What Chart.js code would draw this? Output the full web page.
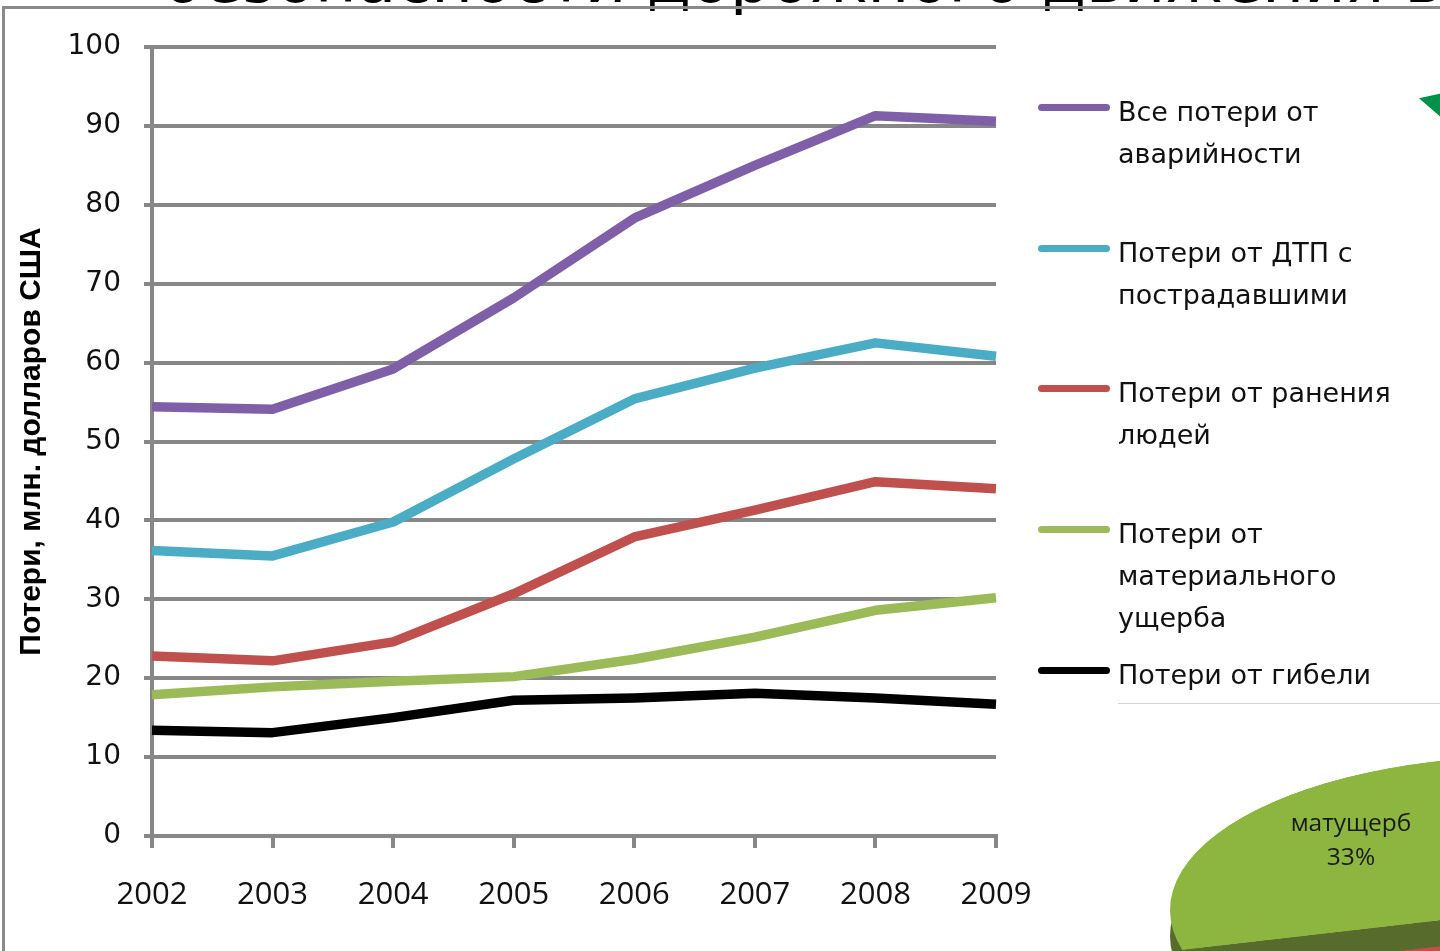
<!DOCTYPE html>
<html>
<head>
<meta charset="utf-8">
<script src="https://cdn.jsdelivr.net/npm/chart.js@4.4.1/dist/chart.umd.min.js"></script>
<style>
  html, body { margin: 0; padding: 0; background: #fff; }
  body { width: 1440px; height: 951px; position: relative; overflow: hidden; font-family: 'DejaVu Sans', sans-serif; }
  #title { position: absolute; left: 163px; top: -52px; font-size: 64px; line-height: 64px; color: #000; white-space: nowrap; }
  #frame { position: absolute; left: 2px; top: 6px; width: 1500px; height: 1000px; border-left: 3px solid #8a8a8a; border-top: 3px solid #8a8a8a; background: transparent; }
  #lineWrap { position: absolute; left: 0; top: 0; width: 1440px; height: 951px; }
  #legend { position: absolute; left: 1038px; top: 91px; width: 400px; }
  .item { position: relative; height: 140.7px; }
  .swatch { position: absolute; left: 0; top: 13px; width: 72px; height: 7px; border-radius: 4px; }
  .label { position: absolute; left: 80px; top: 0; width: 300px; font-size: 27px; line-height: 42px; color: #111; }
  #pieBox { position: absolute; left: 1118px; top: 703px; width: 330px; height: 260px; background: #fff; border-top: 1px solid #d4d4d4; overflow: hidden; }
  .pieWrap { position: absolute; left: 52px; width: 720px; height: 720px; transform: scaleY(0.428); transform-origin: 50% 50%; }
  #pieBase { top: -154px; }
  #pieSide { top: -128px; }
  #pieTop { top: -154px; }
  #pieLabel { position: absolute; left: 145px; top: 101px; width: 176px; text-align: center; font-family: 'Open Sans', sans-serif; font-size: 24.5px; line-height: 34px; color: #1a1a1a; }
  #tri { position: absolute; left: 1419px; top: 93px; width: 24px; height: 26px; background: #00924a; clip-path: polygon(0 20%, 100% 0, 100% 100%); }
</style>
</head>
<body>
<div id="title">безопасности дорожного движения в</div>
<div id="frame"></div>
<div id="lineWrap"><canvas id="lineChart"></canvas></div>
<div id="legend"></div>
<div id="tri"></div>
<div id="pieBox">
  <div class="pieWrap" id="pieBase"><canvas id="pieBaseChart"></canvas></div>
  <div class="pieWrap" id="pieSide"><canvas id="pieSideChart"></canvas></div>
  <div class="pieWrap" id="pieTop"><canvas id="pieChart"></canvas></div>
  <div id="pieLabel"></div>
</div>
<script>
// Anos e séries (milhões de dólares)
const years = ['2002', '2003', '2004', '2005', '2006', '2007', '2008', '2009'];
const allLosses      = [54.4, 54.1, 59.2, 68.2, 78.3, 85.0, 91.3, 90.6];
const injuryCrashes  = [36.2, 35.5, 39.8, 47.8, 55.4, 59.3, 62.5, 60.8];
const woundedLosses  = [22.8, 22.2, 24.6, 30.7, 37.9, 41.3, 44.9, 44.0];
const materialLosses = [17.9, 18.9, 19.6, 20.2, 22.4, 25.2, 28.6, 30.2];
const deathLosses    = [13.4, 13.1, 15.0, 17.2, 17.5, 18.1, 17.5, 16.7];
const seriesNames = ['Все потери от аварийности', 'Потери от ДТП с пострадавшими', 'Потери от ранения людей', 'Потери от материального ущерба', 'Потери от гибели людей'];
const seriesColors = ['#7f60a8', '#4bacc6', '#c0504d', '#9bbb59', '#000000'];
const yTicks = [0, 10, 20, 30, 40, 50, 60, 70, 80, 90, 100];
const yTitle = 'Потери, млн. долларов США';

// Pizza (estrutura de 2009)
const pieLabels = ['матущерб', 'гибель', 'ранения'];
const pieShares = [33, 18, 49];
const pieTopColors = ['#8db640', '#4f81bd', '#c0504d'];
const pieSideColors = ['#566b2c', '#385d8a', '#8c3836'];

const seriesData = [allLosses, injuryCrashes, woundedLosses, materialLosses, deathLosses];
const gridGray = '#878787';
const clear = 'rgba(0,0,0,0)';

// Legenda em HTML
const legend = document.getElementById('legend');
seriesNames.forEach((name, i) => {
    const item = document.createElement('div');
    item.className = 'item';
    item.innerHTML = `<div class="swatch" style="background:${seriesColors[i]}"></div><div class="label">${name}</div>`;
    legend.appendChild(item);
});

// Gráfico de linhas
new Chart(document.getElementById('lineChart'), {
    type: 'line',
    data: {
        labels: years,
        datasets: seriesData.map((d, i) => ({
            label: seriesNames[i],
            data: d,
            borderColor: seriesColors[i],
            backgroundColor: seriesColors[i],
            borderWidth: 9.5,
            pointRadius: 0,
            tension: 0,
            borderJoinStyle: 'round',
            borderCapStyle: 'butt'
        })).reverse()
    },
    options: {
        responsive: true,
        maintainAspectRatio: false,
        animation: false,
        layout: { padding: { left: 10, right: 444, top: 47, bottom: 0 } },
        plugins: { legend: { display: false }, tooltip: { enabled: false } },
        scales: {
            x: {
                offset: false,
                grid: { drawOnChartArea: false, drawTicks: true, tickLength: 12, color: gridGray, lineWidth: 4 },
                border: { color: gridGray, width: 4 },
                ticks: { color: '#111', font: { family: 'Open Sans', size: 31 }, padding: 29, maxRotation: 0 },
                afterFit: s => { s.height = 115; }
            },
            y: {
                min: 0,
                max: 100,
                afterBuildTicks: s => { s.ticks = yTicks.map(v => ({ value: v })); },
                grid: { color: gridGray, lineWidth: 4, tickLength: 8 },
                border: { color: gridGray, width: 4 },
                ticks: { color: '#111', font: { family: 'DejaVu Sans', size: 28 }, padding: 23 },
                title: { display: true, text: yTitle, color: '#000', padding: { top: 4, bottom: 0 },
                         font: { family: "'Liberation Sans Narrow', 'Liberation Sans'", size: 30, weight: 'bold' } },
                afterFit: s => { s.width = 142; }
            }
        }
    }
});

// Pizza 3D aproximada: faces de baixo, lateral da fatia verde, face superior verde
function makePie(id, colors) {
    new Chart(document.getElementById(id), {
        type: 'pie',
        data: { labels: pieLabels, datasets: [{ data: pieShares, backgroundColor: colors, borderWidth: 0 }] },
        options: {
            responsive: true,
            maintainAspectRatio: false,
            animation: false,
            rotation: 255,
            plugins: { legend: { display: false }, tooltip: { enabled: false } }
        }
    });
}
makePie('pieBaseChart', [clear, pieTopColors[1], pieTopColors[2]]);
makePie('pieSideChart', [pieSideColors[0], clear, clear]);
makePie('pieChart', [pieTopColors[0], clear, clear]);
document.getElementById('pieLabel').innerHTML = pieLabels[0] + '<br>' + pieShares[0] + '%';
</script>
</body>
</html>
